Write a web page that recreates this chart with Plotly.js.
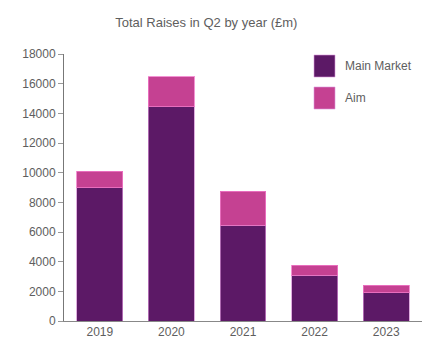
<!DOCTYPE html>
<html>
<head>
<meta charset="utf-8">
<script src="https://cdn.plot.ly/plotly-3.0.1.min.js"></script>
<style>html,body{margin:0;padding:0;background:#fff;}#chart{width:439px;height:350px;}</style>
</head>
<body>
<div id="chart"></div>
<script>
const years = ['2019', '2020', '2021', '2022', '2023'];
const mainMarket = [9000, 14450, 6450, 3100, 1900];
const aim = [1100, 2000, 2300, 650, 500];
const seriesNames = ['Main Market', 'Aim'];
const colors = ['#5c1966', '#c54192'];

const font = {family: 'Liberation Sans, Arial, sans-serif', color: '#5e5e5e', size: 12};

const traces = [
  {type: 'bar', x: years, y: mainMarket, name: seriesNames[0],
   marker: {color: colors[0], line: {color: 'rgba(210,140,210,0.7)', width: 1}}},
  {type: 'bar', x: years, y: aim, name: seriesNames[1],
   marker: {color: colors[1], line: {color: 'rgba(240,120,200,0.8)', width: 1}}}
];

const legendShapes = [];
const legendAnn = [];
const lys = [[55, 77], [87, 109]];
seriesNames.forEach((n, i) => {
  legendShapes.push({type: 'rect', xref: 'paper', yref: 'paper',
    x0: (314 - 64) / 358, x1: (335 - 64) / 358,
    y0: (321 - lys[i][1]) / 267, y1: (321 - lys[i][0]) / 267,
    fillcolor: colors[i], line: {color: 'rgba(220,150,220,0.6)', width: 1}});
  legendAnn.push({xref: 'paper', yref: 'paper', x: (343 - 64) / 358,
    y: (321 - (lys[i][0] + lys[i][1]) / 2) / 267, xanchor: 'left', yanchor: 'middle',
    text: n, showarrow: false, font: {family: font.family, color: font.color, size: 12}});
});

const layout = {
  width: 439, height: 350,
  margin: {l: 64, r: 17, t: 54, b: 29},
  paper_bgcolor: '#fff', plot_bgcolor: '#fff',
  barmode: 'stack', bargap: 0.36,
  showlegend: false,
  font: font,
  title: {text: 'Total Raises in Q2 by year (£m)', xref: 'container', x: 0.47, xanchor: 'center',
          y: 0.935, yanchor: 'middle', font: {family: font.family, size: 13, color: font.color}},
  xaxis: {showline: true, linecolor: '#888', linewidth: 1, ticks: '', showgrid: false,
          tickfont: {size: 12, color: font.color}, fixedrange: true},
  yaxis: {range: [0, 18000], dtick: 2000, showline: true, linecolor: '#777', linewidth: 1,
          ticks: 'outside', ticklen: 5, tickcolor: '#999', showgrid: false, zeroline: false,
          tickfont: {size: 12, color: font.color}, tickformat: 'd'},
  shapes: legendShapes,
  annotations: legendAnn
};

Plotly.newPlot('chart', traces, layout, {displayModeBar: false, staticPlot: true});
</script>
</body>
</html>
